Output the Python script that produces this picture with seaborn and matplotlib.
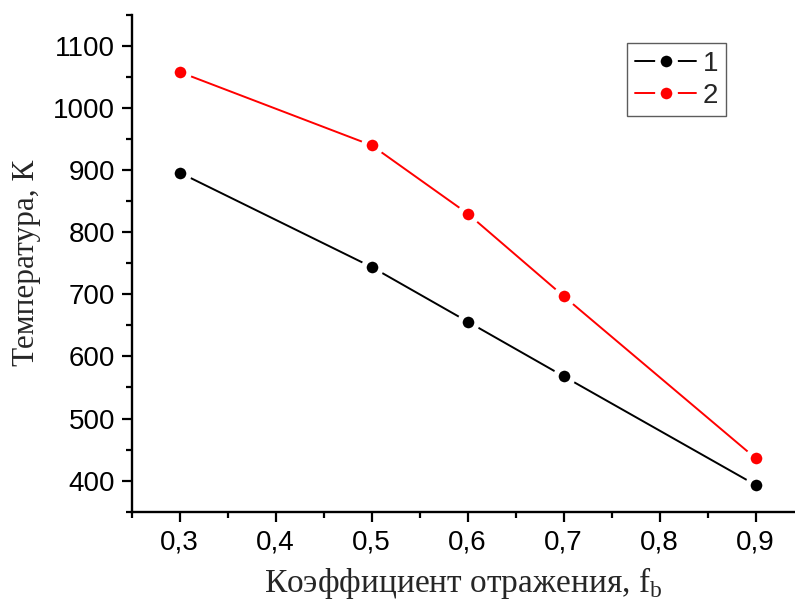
import matplotlib
matplotlib.use("Agg")
import matplotlib.pyplot as plt
from matplotlib.ticker import MultipleLocator, FuncFormatter
import seaborn as sns
import pandas as pd

# Reflection coefficient values and computed temperatures
reflection = [0.3, 0.5, 0.6, 0.7, 0.9]
temp_1 = [896, 744, 656, 568, 393]
temp_2 = [1058, 940, 830, 697, 436]
series_labels = ["1", "2"]
series_colors = {"1": "black", "2": "red"}

x_label = "Коэффициент отражения, f$_\\mathregular{b}$"
y_label = "Температура, К"

df = pd.concat([
    pd.DataFrame({"f": reflection, "T": temp_1, "series": series_labels[0]}),
    pd.DataFrame({"f": reflection, "T": temp_2, "series": series_labels[1]}),
], ignore_index=True)

sns.set_theme(style="ticks")
plt.rcParams["font.family"] = ["Liberation Sans", "DejaVu Sans"]
plt.rcParams["mathtext.fontset"] = "custom"
plt.rcParams["mathtext.rm"] = "Liberation Serif"

fig = plt.figure(figsize=(7.95, 6.10), dpi=100)
ax = fig.add_axes([0.1657, 0.1612, 0.8343, 0.8143])

sns.lineplot(
    data=df, x="f", y="T", hue="series", palette=series_colors,
    marker="o", markersize=12.4, markeredgecolor="white", markeredgewidth=4,
    linewidth=1.4, legend=False, ax=ax, sort=False,
)

ax.set_xlim(0.25, 0.941)
ax.set_ylim(350, 1150)
ax.xaxis.set_major_locator(MultipleLocator(0.1))
ax.xaxis.set_minor_locator(MultipleLocator(0.05))
ax.yaxis.set_major_locator(MultipleLocator(100))
ax.yaxis.set_minor_locator(MultipleLocator(50))
ax.xaxis.set_major_formatter(FuncFormatter(lambda v, p: f"{v:.1f}".replace(".", ",")))
ax.yaxis.set_major_formatter(FuncFormatter(lambda v, p: f"{v:.0f}"))

for side in ("top", "right"):
    ax.spines[side].set_visible(False)
for side in ("left", "bottom"):
    ax.spines[side].set_linewidth(1.7)
    ax.spines[side].set_color("black")

ax.tick_params(which="major", direction="out", length=7, width=1.6,
               labelsize=20, colors="black")
ax.tick_params(axis="x", which="major", pad=6)
ax.tick_params(axis="y", which="major", pad=5)
ax.tick_params(which="minor", direction="out", length=4, width=1.6, colors="black")

ax.set_xlabel(x_label, family="Liberation Serif", fontsize=24, labelpad=7)
ax.set_ylabel(y_label, family="Liberation Serif", fontsize=22.5, labelpad=9)

leg = ax.legend(
    handles=ax.lines[:2], labels=series_labels,
    loc="upper left", bbox_to_anchor=(0.747, 0.944), borderaxespad=0,
    fontsize=20, handlelength=2.2, handletextpad=0.25, labelspacing=0.22,
    fancybox=False, frameon=True, borderpad=0.28,
)
leg.get_frame().set_edgecolor("#333333")
leg.get_frame().set_linewidth(1.0)

fig.savefig("out.png", dpi=100)
